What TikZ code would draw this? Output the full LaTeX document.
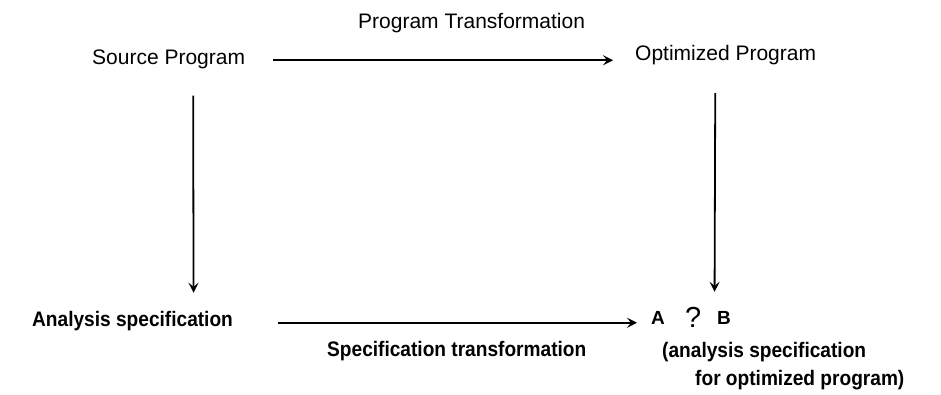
\documentclass[tikz,border=0pt]{standalone}
\usepackage{fontspec}
\usepackage{graphicx}
\setmainfont{Liberation Sans}
\usetikzlibrary{arrows.meta,calc}
\newcommand{\hv}[1]{\scalebox{0.91}[1]{\bfseries #1}}
\tikzset{
  txt/.style={inner sep=0pt, anchor=base west, font=\fontsize{21}{25}\selectfont, text height=15pt, text depth=4.5pt},
  letter/.style={inner sep=0pt, anchor=base west, font=\fontsize{19}{22}\selectfont\bfseries, text height=14pt, text depth=0pt},
  arr/.style={line width=1.8pt, -{Stealth[length=10pt,width=10pt,inset=4pt]}}
}
\begin{document}
\begin{tikzpicture}[x=1pt,y=-1pt]
\useasboundingbox (0,0) rectangle (941,394);
\fill[white] (0,0) rectangle (941,394);
% nodes
\node[txt] (src) at (92,64) {Source Program};
\node[txt] (opt) at (635,60) {Optimized Program};
\node[txt] (spec) at (32,326) {\hv{Analysis specification}};
\node[txt] (ptl) at (358,28) {Program Transformation};
\node[txt] (stl) at (327,356) {\hv{Specification transformation}};
\node[letter] (nA) at (651,324) {A};
\node[inner sep=0pt, anchor=base west, font=\fontsize{29}{32}\selectfont] (nq) at (685,327.5) {?};
\node[letter] (nB) at (717,324) {B};
\node[txt] (note1) at (662,357) {\hv{(analysis specification}};
\node[txt] (note2) at (695,385) {\hv{for optimized program)}};
% connectors
\draw[arr] ([xshift=28pt,yshift=-1.5pt]src.east) -- ([xshift=-22pt,yshift=-1.5pt]src.east -| opt.west);
\draw[arr] ($(src.south)+(24.5,27)$) -- ($(spec.north)+(61,-18)$);
\draw[arr] ($(opt.south)+(-10.4,28.5)$) -- ($(nB.north)+(-9.5,-18)$);
\draw[arr] ([xshift=45pt,yshift=-2pt]spec.east) -- ([xshift=-14pt,yshift=-2pt]spec.east -| nA.west);
\end{tikzpicture}
\end{document}
